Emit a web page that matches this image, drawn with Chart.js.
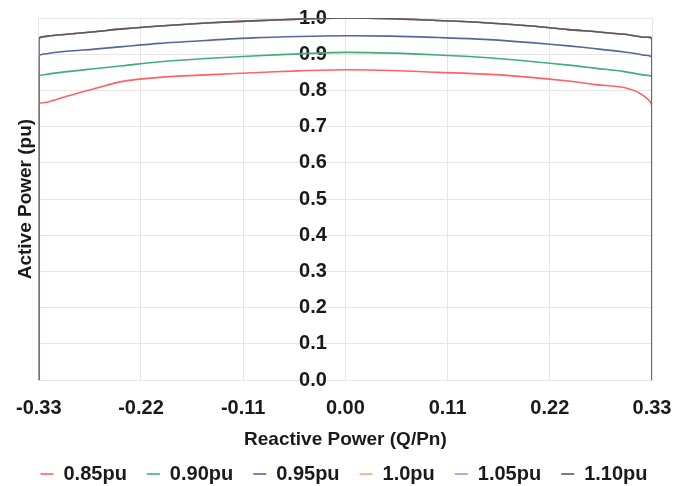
<!DOCTYPE html>
<html>
<head>
<meta charset="utf-8">
<script src="https://cdn.jsdelivr.net/npm/chart.js@4"></script>
<style>
  html, body { margin: 0; padding: 0; background: #fff; }
  #wrap { width: 688px; height: 486px; }
</style>
</head>
<body>
<div id="wrap"><canvas id="pqChart"></canvas></div>
<script>
// Q/Pn positions (each curve drops to 0 at both ends)
const qValues = [-0.33, -0.33, -0.32, -0.30, -0.27, -0.24, -0.20, -0.15, -0.10, -0.05, 0,
  0.05, 0.10, 0.15, 0.20, 0.24, 0.27, 0.30, 0.32, 0.33, 0.33];

const p085 = [0, 0.760, 0.768, 0.784, 0.805, 0.825, 0.836, 0.843, 0.849, 0.854, 0.857,
  0.855, 0.850, 0.845, 0.836, 0.826, 0.816, 0.808, 0.787, 0.755, 0];
const p090 = [0, 0.837, 0.845, 0.852, 0.860, 0.868, 0.879, 0.888, 0.895, 0.901, 0.905,
  0.903, 0.898, 0.891, 0.880, 0.870, 0.861, 0.852, 0.843, 0.836, 0];
const p095 = [0, 0.893, 0.902, 0.908, 0.914, 0.921, 0.930, 0.938, 0.945, 0.949, 0.951,
  0.950, 0.946, 0.941, 0.932, 0.923, 0.915, 0.906, 0.898, 0.890, 0];
const p100 = [0, 0.942, 0.950, 0.955, 0.962, 0.970, 0.978, 0.986, 0.992, 0.997, 1.000,
  0.998, 0.993, 0.987, 0.978, 0.968, 0.962, 0.955, 0.947, 0.942, 0];
const p105 = [0, 0.942, 0.950, 0.955, 0.962, 0.970, 0.978, 0.986, 0.992, 0.997, 1.000,
  0.998, 0.993, 0.987, 0.978, 0.968, 0.962, 0.955, 0.947, 0.942, 0];
const p110 = [0, 0.942, 0.950, 0.955, 0.962, 0.970, 0.978, 0.986, 0.992, 0.997, 1.000,
  0.998, 0.993, 0.987, 0.978, 0.968, 0.962, 0.955, 0.947, 0.942, 0];

const seriesLabels = ['0.85pu', '0.90pu', '0.95pu', '1.0pu', '1.05pu', '1.10pu'];
const seriesValues = [p085, p090, p095, p100, p105, p110];
const seriesColors = ['#ff6262', '#3fae78', '#55679a', '#f9a77a', '#b48ad6', '#5a5a5a'];

const xTicks = [-0.33, -0.22, -0.11, 0, 0.11, 0.22, 0.33];

const FONT = 'Liberation Sans, Arial, sans-serif';
const TEXT = '#1a1a1a';

function toPoints(values) {
  return values.map((p, i) => ({ x: qValues[i], y: p }));
}

const datasets = seriesLabels.map((label, i) => ({
  label: label,
  data: toPoints(seriesValues[i]),
  borderColor: seriesColors[i],
  backgroundColor: seriesColors[i],
  borderWidth: 1.6,
  pointRadius: 0,
  showLine: true,
  tension: 0.3,
  // black curve on top so the edge lines look dark
  order: i === 5 ? 0 : 6 - i
}));

new Chart(document.getElementById('pqChart'), {
  type: 'scatter',
  data: { datasets: datasets },
  options: {
    responsive: true,
    maintainAspectRatio: false,
    animation: false,
    layout: { padding: { left: 0, right: 0, top: 18, bottom: -8 } },
    plugins: {
      tooltip: { enabled: false },
      legend: {
        position: 'bottom',
        labels: {
          usePointStyle: true,
          pointStyle: 'line',
          pointStyleWidth: 13,
          boxHeight: 2,
          padding: 20,
          color: TEXT,
          font: { family: FONT, size: 20, weight: 'bold' },
          sort: (a, b) => a.datasetIndex - b.datasetIndex
        }
      }
    },
    scales: {
      x: {
        type: 'linear',
        min: -0.33,
        max: 0.33,
        afterBuildTicks: axis => { axis.ticks = xTicks.map(v => ({ value: v })); },
        grid: { color: '#e6e6e6', drawTicks: false },
        border: { color: '#e6e6e6' },
        ticks: {
          padding: 16,
          color: TEXT,
          font: { family: FONT, size: 20, weight: 'bold' },
          callback: v => v.toFixed(2),
          maxRotation: 0
        },
        title: {
          display: true,
          text: 'Reactive Power (Q/Pn)',
          color: TEXT,
          padding: { top: -8, bottom: -7 },
          font: { family: FONT, size: 19, weight: 'bold' }
        }
      },
      y: {
        type: 'linear',
        // labels sit just left of the centre line
        position: { x: -0.02 },
        min: 0,
        max: 1.0,
        grid: { color: '#e6e6e6', drawTicks: false },
        border: { display: false },
        ticks: {
          stepSize: 0.1,
          color: TEXT,
          font: { family: FONT, size: 20, weight: 'bold' },
          callback: v => v.toFixed(1)
        }
      },
      yTitle: {
        type: 'linear',
        position: 'left',
        min: 0,
        max: 1,
        grid: { display: false },
        border: { display: false },
        ticks: { display: false },
        afterFit: scale => { scale.width = 38; },
        title: {
          display: true,
          text: 'Active Power (pu)',
          color: TEXT,
          padding: { top: 14, bottom: 0 },
          font: { family: FONT, size: 19, weight: 'bold' }
        }
      },
      yPad: {
        type: 'linear',
        position: 'right',
        grid: { display: false },
        border: { display: false },
        ticks: { display: false },
        afterFit: scale => { scale.width = 36; }
      }
    }
  }
});
</script>
</body>
</html>
